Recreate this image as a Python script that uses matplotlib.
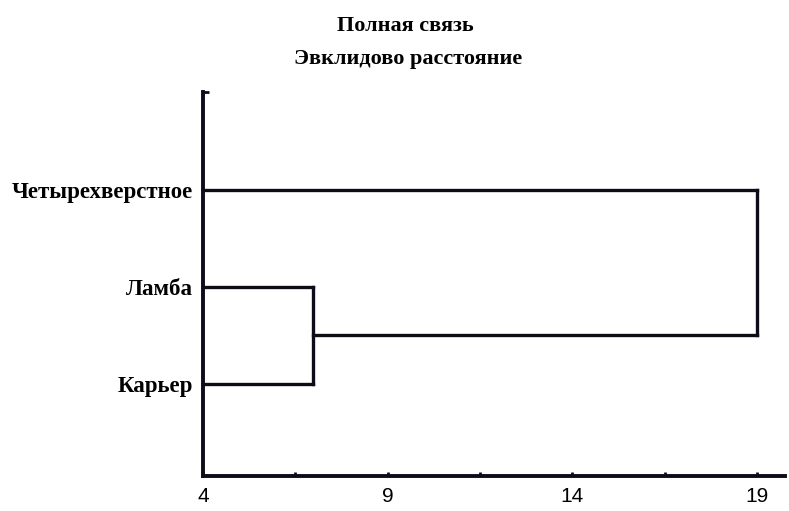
import matplotlib
matplotlib.use("Agg")
import matplotlib.pyplot as plt

# Data
leaves = ["Четырехверстное", "Ламба", "Карьер"]
leaf_pos = [3, 2, 1]
merge_pairs = [("Ламба", "Карьер"), ("Четырехверстное", "C1")]
merge_heights = [6.97, 19.0]
x_ticks = [4, 9, 14, 19]
x_minor = [6.5, 11.5, 16.5]
title_lines = ["Полная связь", "Эвклидово расстояние"]

W, H = 789, 511
fig = plt.figure(figsize=(W / 100, H / 100), dpi=100)
ax = fig.add_axes([203 / W, (H - 476) / H, (785 - 203) / W, (476 - 92) / H])
xmin, xmax = 4, 19.76
ymin, ymax = 0.05, 4.01
ax.set_xlim(xmin, xmax)
ax.set_ylim(ymin, ymax)

col = "#0d0d1a"
lw = 2.4

# Build dendrogram from data
node_y = {name: y for name, y in zip(leaves, leaf_pos)}
node_x = {name: xmin for name in leaves}
for i, ((a, b), h) in enumerate(zip(merge_pairs, merge_heights)):
    for n in (a, b):
        ax.plot([node_x[n], h], [node_y[n], node_y[n]], color=col, lw=lw,
                solid_capstyle="projecting", clip_on=False)
    ax.plot([h, h], [node_y[a], node_y[b]], color=col, lw=lw,
            solid_capstyle="projecting", clip_on=False)
    name = f"C{i+1}"
    node_y[name] = (node_y[a] + node_y[b]) / 2
    node_x[name] = h

for s in ["top", "right"]:
    ax.spines[s].set_visible(False)
for s in ["left", "bottom"]:
    ax.spines[s].set_linewidth(2.8)
    ax.spines[s].set_color(col)

ax.set_xticks(x_ticks)
ax.set_xticklabels([str(t) for t in x_ticks], fontsize=15, family="Liberation Sans")
ax.set_xticks(x_minor, minor=True)
ax.tick_params(axis="x", which="both", direction="in", length=3, width=2, color=col, pad=8)

ax.set_yticks(leaf_pos)
ax.set_yticklabels(leaves, fontsize=16.5, family="Liberation Serif", fontweight="bold")
ax.tick_params(axis="y", which="major", length=0, pad=7)
ax.set_yticks([ymax], minor=True)
ax.tick_params(axis="y", which="minor", direction="in", length=4, width=2, color=col)

fig.text(405 / W, 1 - 26 / H, title_lines[0], ha="center", va="center",
         fontsize=16, family="Liberation Serif", fontweight="bold")
fig.text(408 / W, 1 - 59 / H, title_lines[1], ha="center", va="center",
         fontsize=16, family="Liberation Serif", fontweight="bold")

fig.savefig("out.png", dpi=100)
